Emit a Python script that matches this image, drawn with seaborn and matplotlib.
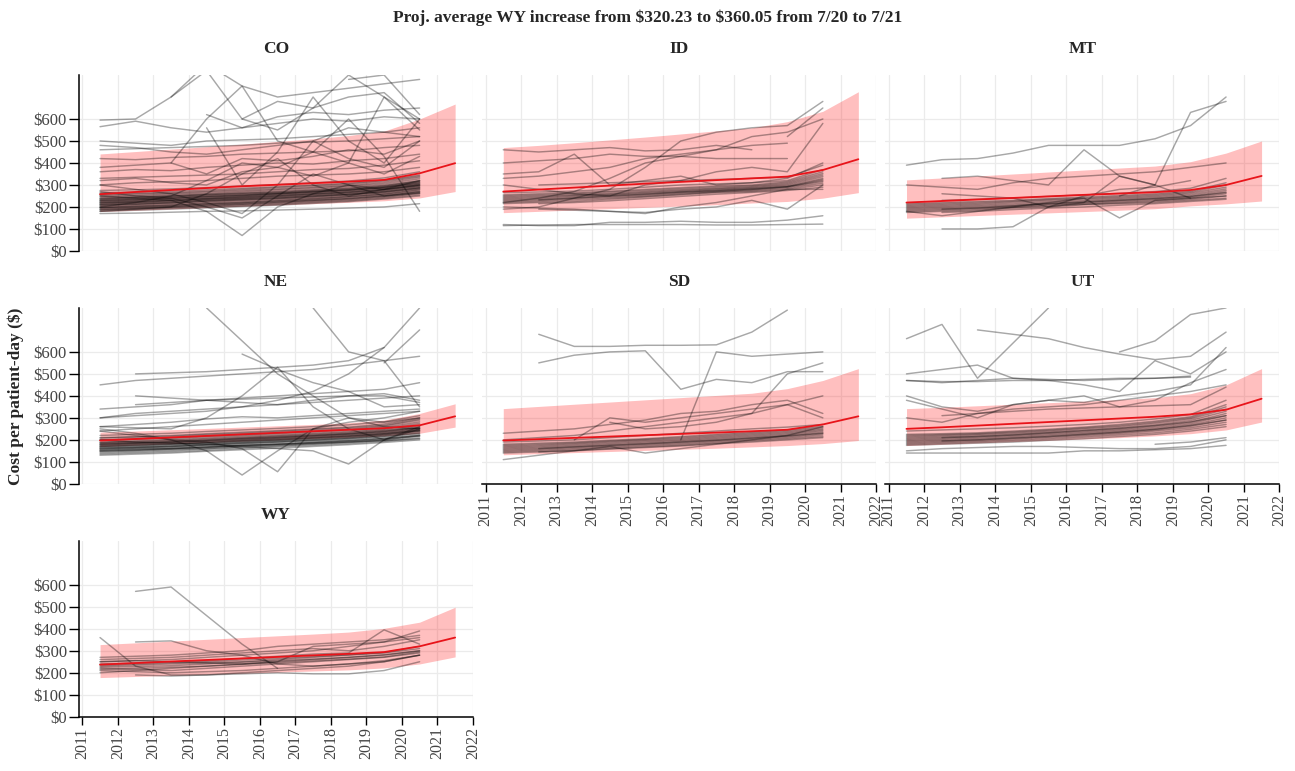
import pandas as pd
import matplotlib
matplotlib.use('Agg')
import matplotlib.pyplot as plt
import seaborn as sns

N = None

TITLE = "Proj. average WY increase from $320.23 to $360.05 from 7/20 to 7/21"
Y_LABEL = "Cost per patient-day ($)"
STATES = ['CO', 'ID', 'MT', 'NE', 'SD', 'UT', 'WY']
X_TICKS = [2011, 2012, 2013, 2014, 2015, 2016, 2017, 2018, 2019, 2020, 2021, 2022]
Y_TICKS = [0, 100, 200, 300, 400, 500, 600]
Y_TICK_LABELS = ['$0', '$100', '$200', '$300', '$400', '$500', '$600']

# yearly observation points of each facility line
YEARS = [2011.5, 2012.5, 2013.5, 2014.5, 2015.5, 2016.5, 2017.5, 2018.5, 2019.5, 2020.5]
# points of the projected trend
TREND_YEARS = [2011.5, 2012.5, 2013.5, 2014.5, 2015.5, 2016.5, 2017.5, 2018.5, 2019.5, 2020.5, 2021.5]

CO_LINES = [
    [185, 190, 195, 200, 205, 212, 220, 228, 240, 255],
    [195, 200, 205, 212, 218, 225, 232, 240, 252, 268],
    [205, 210, 215, 222, 228, 235, 242, 250, 262, 280],
    [215, 220, 226, 232, 238, 245, 252, 260, 272, 290],
    [225, 230, 235, 240, 247, 255, 262, 270, 282, 300],
    [235, 240, 245, 250, 256, 262, 270, 278, 290, 310],
    [245, 248, 252, 258, 265, 272, 280, 288, 300, 320],
    [255, 258, 262, 268, 275, 282, 290, 298, 312, 335],
    [265, 268, 272, 278, 285, 292, 300, 308, 322, 345],
    [275, 278, 282, 288, 295, 302, 310, 318, 332, 360],
    [200, 205, 208, 215, 220, 228, 236, 246, 258, 278],
    [220, 222, 228, 235, 240, 248, 256, 264, 276, 295],
    [240, 242, 248, 254, 260, 266, 274, 282, 294, 315],
    [190, 192, 198, 204, 210, 216, 224, 232, 244, 262],
    [210, 214, 218, 226, 232, 238, 246, 255, 266, 285],
    [230, 234, 238, 244, 250, 258, 266, 274, 286, 305],
    [170, 172, 176, 180, 182, 186, 190, 195, 200, 215],
    [260, 262, 266, 272, 280, 288, 296, 304, 318, 340],
    [180, 185, 190, 196, 202, 208, 216, 224, 236, 250],
    [188, 195, 200, 206, 212, 220, 228, 236, 248, 262],
    [198, 203, 210, 217, 223, 230, 238, 246, 257, 273],
    [208, 212, 220, 227, 233, 240, 248, 256, 268, 285],
    [218, 225, 230, 237, 243, 250, 258, 266, 278, 295],
    [228, 232, 240, 246, 252, 260, 268, 276, 288, 306],
    [238, 244, 250, 256, 262, 268, 276, 284, 296, 318],
    [250, 252, 258, 262, 270, 278, 286, 294, 306, 328],
    [212, 218, 222, 230, 236, 242, 250, 258, 270, 288],
    [222, 226, 232, 238, 245, 252, 260, 268, 280, 300],
    [196, 198, 202, 210, 215, 222, 230, 238, 250, 265],
    [232, 236, 242, 248, 254, 262, 270, 278, 290, 312],
    [300, 310, 315, 320, 330, 340, 345, 350, 360, 380],
    [330, 335, 340, 345, 350, 360, 370, 375, 390, 410],
    [360, 370, 365, 380, 390, 400, 395, 410, 420, 440],
    [420, 415, 425, 430, 440, 445, 450, 455, 470, 480],
    [460, 465, 470, 475, 480, 490, 495, 500, 510, 520],
    [500, 490, 480, 500, 505, 510, 520, 530, 540, 560],
    [380, 390, 400, 350, 420, 410, 430, 460, 440, 500],
    [320, 330, 310, 300, 360, 380, 340, 400, 350, 430],
    [595, 600, 700, 850, 750, 700, 720, 740, 760, 780],
    [565, 590, 560, 540, 560, 580, 600, 590, 610, 600],
    [N, N, 700, 820, 600, 550, 650, 800, 700, 600],
    [N, N, 400, 600, 750, 500, 450, 400, 700, 550],
    [N, N, N, 560, 300, 450, 700, 500, 400, 600],
    [300, 280, 260, 220, 170, 300, 500, 420, 380, 500],
    [270, 250, 240, 200, 150, 250, 350, 300, 280, 320],
    [250, 240, 230, 180, 70, 200, 260, 300, 250, 270],
    [N, N, N, N, 600, 680, 650, 700, 720, 580],
    [480, 470, 450, 440, 460, 480, 500, 560, 540, 520],
    [N, N, N, 620, 560, 610, 630, 620, 640, 650],
    [N, N, N, N, N, N, N, 780, 800, 620],
    [200, 220, 250, 320, 400, 380, 450, 600, 430, 180],
    [180, 190, 200, 260, 350, 420, 300, 250, 280, 300],
]

ID_LINES = [
    [215, 220, 225, 235, 245, 255, 265, 270, 280, 300],
    [225, 230, 238, 245, 252, 262, 270, 278, 290, 315],
    [235, 240, 248, 255, 262, 270, 278, 285, 295, 330],
    [245, 250, 255, 262, 270, 278, 285, 292, 305, 345],
    [255, 260, 265, 272, 280, 288, 295, 300, 315, 360],
    [220, 225, 232, 240, 248, 258, 268, 274, 285, 308],
    [240, 245, 252, 258, 266, 274, 282, 288, 300, 338],
    [250, 255, 260, 268, 275, 283, 290, 296, 310, 352],
    [230, 235, 243, 250, 257, 266, 273, 280, 292, 325],
    [N, 215, 220, 228, 238, 248, 258, 266, 275, 290],
    [N, 232, 240, 250, 258, 268, 275, 282, 292, 320],
    [265, 268, 272, 280, 290, 300, 305, 310, 320, 370],
    [N, 300, 305, 310, 315, 320, 325, 330, 335, 390],
    [460, 450, 460, 470, 455, 460, 480, 460, N, N],
    [400, 410, 420, 440, 430, 430, 420, 420, 420, N],
    [350, 360, 440, 300, 320, 340, 300, 310, 330, 400],
    [300, 280, 260, 250, 300, 320, 360, 380, 360, 580],
    [120, 115, 115, 130, 130, 135, 130, 130, 140, 160],
    [115, 118, 120, 120, 120, 120, 118, 118, 120, 122],
    [220, 240, 270, 330, 400, 430, 460, 520, 540, 600],
    [190, 200, 240, 280, 380, 500, 540, 560, 570, 680],
    [N, 190, 185, 180, 175, 190, 200, 230, 190, 300],
    [330, 340, 360, 380, 420, 440, 460, 480, 490, N],
    [N, N, N, N, N, N, N, N, 520, 650],
    [200, 195, 190, 180, 170, 200, 220, 250, 280, 280],
]

MT_LINES = [
    [175, 180, 185, 195, 200, 210, 215, 220, 230, 240],
    [185, 190, 195, 200, 210, 215, 222, 230, 240, 260],
    [195, 200, 205, 210, 218, 225, 232, 240, 250, 275],
    [205, 210, 215, 222, 230, 236, 242, 250, 262, 290],
    [215, 220, 225, 230, 238, 245, 252, 260, 272, 310],
    [180, 185, 190, 198, 205, 212, 218, 225, 235, 250],
    [190, 195, 200, 205, 214, 220, 227, 235, 245, 268],
    [200, 205, 210, 216, 224, 230, 237, 245, 256, 282],
    [210, 215, 220, 226, 234, 240, 247, 255, 267, 300],
    [N, 175, 180, 188, 195, 200, 208, 215, 225, 235],
    [N, 230, 235, 240, 248, 255, 262, 270, 285, 330],
    [N, 190, 195, 205, 215, 222, 230, 238, 248, 265],
    [390, 415, 420, 445, 480, 480, 480, 510, 570, 700],
    [N, N, N, N, N, N, 250, 300, 630, 680],
    [N, 330, 340, 320, 300, 460, 340, 300, 240, N],
    [N, 100, 100, 110, 200, 250, 280, 290, 320, N],
    [300, 290, 280, 310, 330, 340, 350, 360, 380, 400],
    [N, 260, 250, 240, 200, 220, 340, 300, N, N],
    [180, 160, 180, 200, 220, 240, 150, 230, 240, 250],
]

NE_LINES = [
    [130, 135, 140, 148, 155, 162, 170, 178, 188, 200],
    [140, 145, 150, 158, 165, 172, 180, 188, 198, 215],
    [150, 155, 160, 168, 175, 182, 190, 198, 208, 225],
    [160, 165, 170, 178, 185, 192, 200, 208, 220, 238],
    [170, 175, 180, 188, 195, 202, 210, 218, 230, 250],
    [180, 185, 190, 198, 205, 212, 220, 228, 240, 262],
    [190, 195, 200, 208, 215, 222, 230, 238, 250, 275],
    [200, 205, 210, 218, 225, 232, 240, 248, 262, 290],
    [210, 215, 220, 228, 235, 242, 250, 258, 272, 300],
    [220, 225, 230, 238, 245, 252, 260, 268, 282, 310],
    [145, 150, 155, 160, 168, 175, 182, 190, 200, 220],
    [165, 168, 172, 180, 188, 195, 202, 210, 222, 240],
    [185, 188, 192, 200, 208, 215, 222, 230, 242, 255],
    [155, 160, 162, 168, 175, 180, 185, 190, 196, 205],
    [175, 180, 183, 190, 198, 205, 212, 220, 230, 245],
    [135, 140, 145, 152, 160, 168, 175, 183, 193, 208],
    [148, 152, 158, 164, 172, 178, 186, 194, 204, 220],
    [158, 162, 166, 174, 180, 188, 195, 203, 214, 232],
    [168, 172, 176, 184, 190, 198, 206, 214, 226, 244],
    [178, 182, 186, 194, 200, 208, 216, 224, 236, 256],
    [188, 192, 196, 204, 210, 218, 226, 234, 246, 268],
    [198, 202, 206, 214, 220, 228, 236, 244, 256, 282],
    [208, 212, 216, 224, 230, 238, 246, 254, 266, 295],
    [172, 176, 180, 186, 194, 200, 208, 216, 226, 242],
    [182, 186, 190, 196, 204, 210, 218, 226, 236, 252],
    [162, 166, 170, 176, 184, 190, 198, 206, 216, 230],
    [152, 156, 160, 166, 174, 180, 188, 196, 206, 218],
    [240, 250, 260, 270, 280, 290, 300, 310, 320, 330],
    [260, 270, 280, 295, 305, 300, 310, 320, 330, 340],
    [300, 320, 330, 340, 350, 360, 370, 380, 390, 400],
    [N, 360, 370, 380, 385, 390, 395, 400, 400, 370],
    [340, 350, 360, 380, 390, 400, 410, 420, 430, 460],
    [N, 400, 390, 380, 370, 360, 380, 400, 410, 380],
    [450, 470, 480, 490, 500, 510, 520, 540, 560, 580],
    [N, 500, 505, 510, 520, 530, 540, 560, 620, N],
    [N, N, N, 800, 650, 500, 400, 300, 260, 250],
    [N, N, N, N, 590, 520, 460, 420, 350, 360],
    [250, 230, 200, 150, 40, 150, 250, 300, 280, 300],
    [240, 220, 200, 190, 160, 55, 250, 280, 300, 330],
    [260, 255, 250, 300, 400, 530, 350, 250, 200, 250],
    [200, 190, 185, 180, 170, 160, 150, 90, 200, 260],
    [N, N, N, N, N, N, 800, 600, 560, 350],
    [300, 310, 320, 330, 350, 380, 420, 500, 620, 800],
    [N, N, N, N, N, N, N, N, 550, 700],
]

SD_LINES = [
    [140, 145, 152, 160, 168, 175, 185, 195, 205, 215],
    [150, 155, 162, 170, 178, 185, 195, 205, 215, 228],
    [160, 165, 172, 180, 188, 195, 205, 215, 225, 240],
    [170, 175, 182, 190, 198, 205, 215, 225, 235, 250],
    [180, 185, 190, 198, 205, 215, 225, 235, 245, 262],
    [145, 150, 157, 165, 173, 180, 190, 200, 210, 222],
    [155, 160, 167, 175, 183, 190, 200, 210, 220, 234],
    [165, 170, 177, 185, 193, 200, 210, 220, 230, 245],
    [175, 180, 186, 194, 202, 210, 220, 230, 240, 256],
    [N, 145, 150, 158, 165, 172, 182, 190, 200, 210],
    [N, 160, 168, 175, 182, 190, 198, 208, 218, 230],
    [190, 195, 200, 210, 220, 230, 240, 250, 258, 270],
    [N, 680, 625, 625, 630, 630, 632, 690, 790, N],
    [N, 550, 585, 600, 605, 430, 475, 460, 510, 510],
    [N, N, N, N, N, 200, 600, 580, 590, 600],
    [200, 210, 220, 240, 260, 280, 300, 320, 500, 550],
    [230, 240, 250, 270, 290, 320, 330, 360, 380, 320],
    [N, N, 200, 300, 280, 300, 320, 340, 360, 300],
    [110, 130, 150, 170, 140, 160, 180, 200, 220, 260],
    [N, N, N, 280, 250, 260, 280, 320, 360, 400],
]

UT_LINES = [
    [175, 180, 185, 190, 198, 205, 215, 225, 240, 260],
    [185, 190, 195, 202, 210, 218, 228, 240, 255, 280],
    [195, 200, 205, 212, 220, 228, 238, 250, 268, 300],
    [205, 210, 215, 222, 230, 238, 248, 262, 280, 320],
    [215, 220, 225, 232, 240, 250, 260, 275, 295, 340],
    [225, 228, 232, 240, 248, 258, 270, 285, 305, 360],
    [180, 185, 190, 196, 204, 212, 222, 232, 248, 270],
    [190, 195, 200, 207, 215, 223, 233, 245, 262, 290],
    [200, 205, 210, 217, 225, 233, 243, 256, 274, 310],
    [210, 215, 220, 227, 235, 244, 254, 268, 288, 330],
    [220, 224, 228, 236, 244, 254, 265, 280, 300, 350],
    [N, 195, 200, 208, 215, 225, 235, 248, 265, 290],
    [N, 210, 215, 222, 232, 242, 252, 265, 282, 310],
    [240, 245, 250, 255, 262, 270, 280, 295, 315, 380],
    [140, 140, 140, 140, 140, 150, 150, 155, 160, 175],
    [150, 160, 165, 170, 170, 165, 160, 160, 170, 200],
    [N, N, N, N, N, N, N, 180, 190, 210],
    [470, 465, 465, 470, 470, 475, 480, 480, 485, N],
    [470, 460, 470, 480, 475, 470, 475, 480, 490, N],
    [660, 725, 480, 640, 800, N, N, N, N, N],
    [N, N, 700, 680, 660, 620, 590, 565, 580, 690],
    [N, N, N, N, N, N, 600, 650, 770, 800],
    [500, 520, 540, 480, 470, 450, 420, 560, 500, 600],
    [400, 350, 330, 360, 380, 400, 350, 380, 460, 520],
    [380, 340, 300, 360, 380, 370, 400, 420, 450, 620],
    [300, 280, 320, 340, 350, 360, 380, 400, 420, 450],
    [N, 310, 320, 330, 340, 345, 350, 355, 360, 440],
]

WY_LINES = [
    [N, 570, 590, 460, 330, 220, N, N, N, N],
    [360, 230, 190, 190, 200, 210, 220, 230, 250, 280],
    [N, 340, 345, 300, 280, 240, 230, 240, 250, 280],
    [270, 275, 280, 290, 300, 320, 330, 340, 350, 370],
    [250, 255, 260, 270, 280, 290, 300, 320, 340, 360],
    [240, 245, 250, 255, 265, 275, 285, 290, 395, 330],
    [200, 210, 220, 230, 240, 250, 260, 270, 280, 300],
    [230, 235, 240, 245, 250, 260, 270, 280, 290, 310],
    [220, 215, 210, 220, 230, 240, 250, 260, 270, 290],
    [210, 205, 200, 205, 210, 220, 230, 240, 255, 280],
    [215, 220, 225, 230, 238, 246, 254, 262, 272, 295],
    [235, 240, 245, 250, 258, 266, 274, 282, 292, 320],
    [225, 228, 232, 240, 248, 255, 262, 270, 282, 300],
    [N, 190, 185, 190, 195, 200, 195, 195, 210, 250],
    [250, 255, 250, 245, 240, 250, 320, 330, 340, 390],
    [260, 265, 270, 280, 290, 300, 310, 300, 320, 350],
]

# projected trend: fitted value, lower and upper band
CO_FIT = [258, 268, 277, 286, 294, 301, 308, 315, 323, 353, 399]
CO_LO = [179, 185, 191, 197, 203, 209, 215, 221, 228, 241, 270]
CO_HI = [441, 452, 463, 474, 486, 498, 510, 525, 545, 600, 668]
ID_FIT = [270, 279, 288, 297, 306, 314, 322, 330, 338, 368, 417]
ID_LO = [174, 180, 186, 192, 198, 204, 210, 218, 225, 240, 265]
ID_HI = [470, 480, 492, 505, 518, 532, 546, 560, 588, 635, 724]
MT_FIT = [220, 227, 234, 241, 248, 255, 261, 267, 277, 300, 341]
MT_LO = [149, 155, 161, 167, 173, 179, 185, 192, 205, 214, 227]
MT_HI = [323, 332, 341, 350, 359, 368, 377, 386, 406, 445, 500]
NE_FIT = [197, 204, 211, 218, 225, 232, 239, 246, 253, 266, 307]
NE_LO = [170, 176, 182, 188, 194, 200, 206, 212, 218, 230, 258]
NE_HI = [235, 240, 246, 252, 258, 264, 270, 278, 290, 320, 364]
SD_FIT = [197, 203, 209, 215, 221, 227, 233, 239, 246, 270, 307]
SD_LO = [132, 137, 142, 147, 152, 157, 162, 168, 174, 183, 197]
SD_HI = [342, 352, 362, 372, 382, 392, 402, 412, 433, 470, 524]
UT_FIT = [250, 257, 265, 273, 281, 289, 297, 305, 316, 337, 387]
UT_LO = [174, 180, 186, 192, 198, 204, 210, 218, 228, 245, 281]
UT_HI = [342, 348, 355, 362, 369, 376, 383, 392, 410, 450, 524]
WY_FIT = [237, 244, 251, 258, 265, 272, 279, 286, 294, 320.23, 360.05]
WY_LO = [178, 183, 188, 193, 198, 203, 208, 213, 222, 240, 272]
WY_HI = [328, 336, 344, 352, 360, 368, 376, 385, 402, 430, 498]

LINES = {'CO': CO_LINES, 'ID': ID_LINES, 'MT': MT_LINES, 'NE': NE_LINES,
         'SD': SD_LINES, 'UT': UT_LINES, 'WY': WY_LINES}
TRENDS = {'CO': (CO_FIT, CO_LO, CO_HI), 'ID': (ID_FIT, ID_LO, ID_HI),
          'MT': (MT_FIT, MT_LO, MT_HI), 'NE': (NE_FIT, NE_LO, NE_HI),
          'SD': (SD_FIT, SD_LO, SD_HI), 'UT': (UT_FIT, UT_LO, UT_HI),
          'WY': (WY_FIT, WY_LO, WY_HI)}

# long tables for seaborn
rows = []
for state, lines in LINES.items():
    for i, vals in enumerate(lines):
        for yr, v in zip(YEARS, vals):
            if v is not None:
                rows.append((state, f'{state}_{i}', yr, v))
facilities = pd.DataFrame(rows, columns=['state', 'facility', 'year', 'cost'])

trows = []
for state, (fit, lo, hi) in TRENDS.items():
    for yr, f, l, h in zip(TREND_YEARS, fit, lo, hi):
        trows.append((state, yr, f, l, h))
trend = pd.DataFrame(trows, columns=['state', 'year', 'fit', 'lo', 'hi'])

sns.set_theme(style='white')
plt.rcParams['font.family'] = ['Liberation Serif', 'DejaVu Serif']
plt.rcParams['text.parse_math'] = False

g = sns.FacetGrid(facilities, col='state', col_wrap=3, col_order=STATES,
                  height=2.4, aspect=1.6, sharex=True, sharey=True, despine=False)
g.map_dataframe(sns.lineplot, x='year', y='cost', units='facility', estimator=None,
                color='black', alpha=0.34, linewidth=1.05)
g.set_axis_labels('', '')

left_col = ['CO', 'NE', 'WY']
bottom_row = ['SD', 'UT', 'WY']

for state, ax in g.axes_dict.items():
    t = trend[trend['state'] == state]
    ax.fill_between(t['year'], t['lo'], t['hi'], color='#ff0000', alpha=0.25,
                    linewidth=0, zorder=1.5)
    sns.lineplot(data=t, x='year', y='fit', ax=ax, color='#e8141a', linewidth=1.3, zorder=4)
    ax.set_xlabel('')
    ax.set_ylabel('')
    ax.set_xlim(2010.9, 2022.0)
    ax.set_ylim(0, 800)
    ax.set_xticks(X_TICKS)
    ax.set_yticks(Y_TICKS, labels=Y_TICK_LABELS)
    ax.grid(True, color='#ebebeb', linewidth=0.9)
    ax.set_axisbelow(True)
    for sp in ax.spines.values():
        sp.set_visible(False)
    show_y = state in left_col
    show_x = state in bottom_row
    if show_y:
        ax.spines['left'].set_visible(True)
        ax.spines['left'].set_color('black')
        ax.spines['left'].set_linewidth(1.1)
    if show_x:
        ax.spines['bottom'].set_visible(True)
        ax.spines['bottom'].set_color('black')
        ax.spines['bottom'].set_linewidth(1.1)
    ax.tick_params(axis='y', left=show_y, labelleft=show_y, length=7, width=1.0,
                   color='black', pad=1.5, labelsize=12, labelcolor='#444444', direction='out')
    ax.tick_params(axis='x', bottom=show_x, labelbottom=show_x, length=5.5, width=1.0,
                   color='black', pad=2, labelsize=11.5, labelcolor='#444444',
                   labelrotation=90, direction='out')
    ax.set_title(state, fontsize=12.5, fontweight='bold', pad=16)

fig = g.figure
fig.set_size_inches(12.95, 7.71)
fig.subplots_adjust(left=0.0608, right=0.9879, top=0.9027, bottom=0.0704,
                    wspace=0.023, hspace=0.324)
fig.text(0.5, 1 - 18 / 771, TITLE, ha='center', va='center', fontsize=12.5, fontweight='bold')
fig.text(16 / 1295, 1 - 396 / 771, Y_LABEL, rotation=90, ha='center', va='center',
         fontsize=12.5, fontweight='bold')

fig.savefig('out.png', dpi=100)
